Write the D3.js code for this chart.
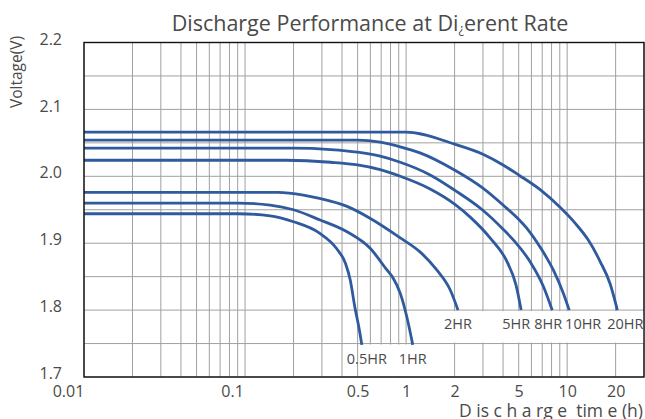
<!DOCTYPE html>
<html>
<head>
<meta charset="utf-8">
<script src="https://cdn.jsdelivr.net/npm/d3@7"></script>
<style>
  body { margin: 0; background: #fff; }
  text { font-family: "Open Sans", "Noto Sans", sans-serif; fill: #4a4a4a; }
</style>
</head>
<body>
<svg width="645" height="419"></svg>
<script>
// tick labels
var xTicks = [0.01, 0.1, 0.5, 1, 2, 5, 10, 20];
var yTicks = [1.7, 1.8, 1.9, 2.0, 2.1, 2.2];

// discharge curves, [time (h), voltage (V)]
var rates = ["20HR", "10HR", "8HR", "5HR", "2HR", "1HR", "0.5HR"];
var hr20 = [[0.01, 2.066], [1, 2.066], [2, 2.048], [3, 2.033], [4, 2.017], [5, 2.002], [6.8, 1.980],
            [9, 1.954], [11.2, 1.930], [13.5, 1.905], [16, 1.873], [18.5, 1.839], [20.5, 1.800]];
var hr10 = [[0.01, 2.054], [0.5, 2.054], [0.69, 2.051], [0.92, 2.044], [1.22, 2.035], [2.01, 2.009],
            [2.97, 1.983], [4, 1.957], [5.03, 1.935], [5.72, 1.920], [6.8, 1.894], [8.2, 1.860],
            [9.44, 1.826], [10.3, 1.800]];
var hr8 = [[0.01, 2.042], [0.2, 2.042], [0.34, 2.040], [0.5, 2.036], [0.69, 2.030], [0.92, 2.021],
           [1.41, 2.002], [2.01, 1.979], [2.97, 1.950], [4, 1.921], [4.75, 1.902], [5.9, 1.872],
           [7.1, 1.836], [8.07, 1.800]];
var hr5 = [[0.01, 2.024], [0.18, 2.024], [0.34, 2.021], [0.5, 2.017], [0.69, 2.010], [0.92, 2.000],
           [1.41, 1.981], [2.01, 1.958], [2.5, 1.939], [3.32, 1.908], [4.24, 1.872], [4.82, 1.837],
           [5.18, 1.800]];
var hr2 = [[0.01, 1.976], [0.16, 1.976], [0.23, 1.972], [0.29, 1.967], [0.43, 1.955], [0.6, 1.937],
           [0.92, 1.908], [1.22, 1.887], [1.55, 1.860], [1.88, 1.830], [2.1, 1.800]];
var hr1 = [[0.01, 1.960], [0.09, 1.960], [0.143, 1.957], [0.2, 1.950], [0.29, 1.935], [0.43, 1.917],
           [0.6, 1.892], [0.76, 1.860], [0.83, 1.848], [0.92, 1.825], [1.01, 1.790], [1.1, 1.748]];
var hr05 = [[0.01, 1.944], [0.09, 1.944], [0.143, 1.941], [0.2, 1.932], [0.29, 1.915], [0.37, 1.892],
            [0.42, 1.870], [0.45, 1.845], [0.48, 1.805], [0.513, 1.770], [0.531, 1.748]];
var curves = [hr20, hr10, hr8, hr5, hr2, hr1, hr05];

var svg = d3.select("svg");
var plotL = 84, plotR = 644, plotT = 42.5, plotB = 377;

var x = d3.scaleLog().domain([0.01, 30]).range([plotL, plotR]);
var y = d3.scaleLinear().domain([1.7, 2.2]).range([plotB, plotT]);

// grid
var vGrid = [];
[0.01, 0.1, 1, 10].forEach(function(d) {
  for (var k = 1; k <= 9; k++) if (k * d <= 30) vGrid.push(k * d);
});
var hGrid = d3.range(0, 11).map(function(i) { return 1.7 + i * 0.05; });

svg.append("g").selectAll("line")
    .data(vGrid)
    .enter().append("line")
    .attr("x1", function(d) { return x(d); })
    .attr("x2", function(d) { return x(d); })
    .attr("y1", plotT).attr("y2", plotB)
    .style("stroke", "#a0a0a0")
    .style("stroke-width", "1px");

// blank areas behind the rate labels
svg.append("rect")
    .attr("x", x(1.04)).attr("y", y(1.8) + 1)
    .attr("width", plotR - x(1.04)).attr("height", y(1.75) - y(1.8) - 2)
    .style("fill", "#fff");
svg.append("rect")
    .attr("x", x(0.56)).attr("y", y(1.75) + 1)
    .attr("width", x(1.95) - x(0.56)).attr("height", y(1.7) - y(1.75) - 2)
    .style("fill", "#fff");

svg.append("g").selectAll("line")
    .data(hGrid)
    .enter().append("line")
    .attr("x1", plotL).attr("x2", plotR)
    .attr("y1", function(d) { return y(d); })
    .attr("y2", function(d) { return y(d); })
    .style("stroke", "#a0a0a0")
    .style("stroke-width", "1px");

// curves
var line = d3.line()
    .x(function(d) { return x(d[0]); })
    .y(function(d) { return y(d[1]); })
    .curve(d3.curveMonotoneX);

svg.append("g").selectAll("path")
    .data(curves)
    .enter().append("path")
    .attr("d", line)
    .style("fill", "none")
    .style("stroke", "#2f5a9e")
    .style("stroke-width", "2.8px");

// border
svg.append("rect")
    .attr("x", plotL).attr("y", plotT)
    .attr("width", plotR - plotL).attr("height", plotB - plotT)
    .style("fill", "none")
    .style("stroke", "#111")
    .style("stroke-width", "1.4px");

// rate labels under curve ends
var labelDx = [8, 14, -4, -5, 0, 0, 5];
svg.append("g").selectAll("text")
    .data(rates)
    .enter().append("text")
    .attr("x", function(d, i) { var c = curves[i]; return x(c[c.length - 1][0]) + labelDx[i]; })
    .attr("y", function(d, i) { var c = curves[i]; return y(c[c.length - 1][1]) + 19; })
    .attr("text-anchor", "middle")
    .style("font-size", "14.5px")
    .text(function(d) { return d; });

// axes
var xAxis = svg.append("g")
    .attr("transform", "translate(0," + plotB + ")")
    .call(d3.axisBottom(x).tickValues(xTicks).tickSize(0).tickPadding(8.5)
      .tickFormat(function(d) { return String(d); }));
xAxis.select(".domain").remove();
xAxis.selectAll("text")
    .style("font-size", "16px")
    .attr("fill", null)
    .attr("dx", function(d) { return d === 0.01 ? -16 : d === 0.1 ? -13 : 0; });

var yAxis = svg.append("g")
    .attr("transform", "translate(" + plotL + ",0)")
    .call(d3.axisLeft(y).tickValues(yTicks).tickSize(0).tickPadding(22).tickFormat(d3.format(".1f")));
yAxis.select(".domain").remove();
yAxis.selectAll("text")
    .style("font-size", "16px")
    .attr("fill", null)
    .attr("dy", "0.1em");
svg.selectAll(".tick text").style("font-family", "'Open Sans', 'Noto Sans', sans-serif");

// titles
var title = svg.append("text")
    .attr("x", 370).attr("y", 31)
    .attr("text-anchor", "middle")
    .style("font-size", "21.5px");
title.append("tspan").text("Discharge Performance at Di");
title.append("tspan").style("font-size", "13px").attr("dy", 2).text("¿");
title.append("tspan").attr("dy", -2).text("erent Rate");

svg.append("text")
    .attr("transform", "translate(22,72) rotate(-90)")
    .attr("text-anchor", "middle")
    .style("font-size", "15.5px")
    .text("Voltage(V)");

svg.append("text")
    .attr("x", 643).attr("y", 417)
    .attr("text-anchor", "end")
    .style("font-size", "17.5px")
    .style("white-space", "pre")
    .text("D is c h a rg e  tim e (h)");
</script>
</body>
</html>
